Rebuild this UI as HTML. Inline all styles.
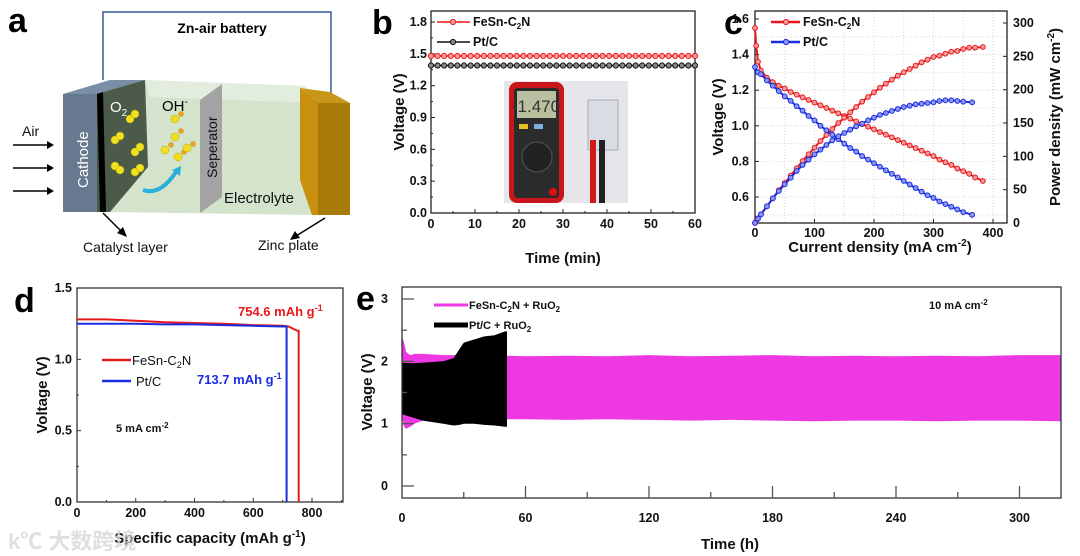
<!DOCTYPE html>
<html><head><meta charset="utf-8">
<style>
html,body{margin:0;padding:0;background:#fff;}
svg{display:block;font-family:"Liberation Sans","Noto Sans CJK SC",sans-serif;}
.t{font-weight:bold;font-size:12.5px;fill:#111;}
.ax{font-weight:bold;font-size:15px;fill:#111;}
.pl{font-weight:bold;font-size:34px;fill:#000;}
</style></head>
<body>
<svg id="fig" width="1080" height="556" viewBox="0 0 1080 556" xmlns="http://www.w3.org/2000/svg">
<!-- Panel a -->
<g>
<text class="pl" x="8" y="32">a</text>
<polyline points="103,80 103,12 331,12 331,97" fill="none" stroke="#3a5a9a" stroke-width="1.5"/>
<text x="222" y="33" text-anchor="middle" style="font-weight:bold;font-size:14px">Zn-air battery</text>
<polygon points="145,80 305,86 315,103 315,215 110,212" fill="#d3e3cc"/>
<polygon points="145,80 305,86 315,103 150,97" fill="#e2eddd"/>
<polygon points="63,94 100,94 145,80 110,80" fill="#7a8ea5"/>
<rect x="63" y="94" width="37" height="118" fill="#66798f"/>
<polygon points="97,94 145,80 148,167 110,212 97,212" fill="#4c5a4a"/>
<polygon points="97,94 103,92 106,212 100,212" fill="#000"/>
<polygon points="200,100 222,84 222,197 200,213" fill="#a3a3a3"/>
<polygon points="300,88 330,92 350,103 320,103" fill="#c9961c"/>
<polygon points="300,88 320,103 318,215 312,215 300,180" fill="#c8900e"/>
<rect x="318" y="103" width="32" height="112" fill="#a87a08"/>
<text x="110" y="112" fill="#fff" style="font-size:15px">O<tspan dy="4" font-size="10">2</tspan></text>
<text x="162" y="111" fill="#000" style="font-size:15px">OH<tspan dy="-6" font-size="10">-</tspan></text>
<g fill="#f0e020" stroke="#b8a800" stroke-width="0.5">
<circle cx="130" cy="119" r="4"/><circle cx="135" cy="114" r="4"/>
<circle cx="115" cy="140" r="4"/><circle cx="120" cy="136" r="4"/>
<circle cx="135" cy="152" r="4"/><circle cx="140" cy="147" r="4"/>
<circle cx="115" cy="166" r="4"/><circle cx="120" cy="170" r="4"/>
<circle cx="135" cy="172" r="4"/><circle cx="140" cy="168" r="4"/>
<circle cx="175" cy="119" r="4"/><circle cx="181" cy="114" r="2.5" fill="#f0a020"/>
<circle cx="175" cy="137" r="4"/><circle cx="181" cy="131" r="2.5" fill="#f0a020"/>
<circle cx="165" cy="150" r="4"/><circle cx="171" cy="145" r="2.5" fill="#f0a020"/>
<circle cx="178" cy="157" r="4"/><circle cx="184" cy="152" r="2.5" fill="#f0a020"/>
<circle cx="187" cy="148" r="4"/><circle cx="193" cy="144" r="2.5" fill="#f0a020"/>
</g>
<path d="M143,190 Q160,196 176,172" fill="none" stroke="#2ab0d8" stroke-width="4"/>
<polygon points="172,170 181,166 180,176" fill="#2ab0d8"/>
<text transform="translate(88,188) rotate(-90)" fill="#fff" style="font-size:15px">Cathode</text>
<text transform="translate(217,178) rotate(-90)" fill="#111" style="font-size:14px">Seperator</text>
<text x="224" y="203" fill="#111" style="font-size:15px">Electrolyte</text>
<text x="22" y="136" fill="#111" style="font-size:14px">Air</text>
<g stroke="#000" stroke-width="1.5">
<line x1="13" y1="145" x2="50" y2="145"/><line x1="13" y1="168" x2="50" y2="168"/><line x1="13" y1="191" x2="50" y2="191"/>
</g>
<g fill="#000"><polygon points="54,145 47,141 47,149"/><polygon points="54,168 47,164 47,172"/><polygon points="54,191 47,187 47,195"/></g>
<line x1="103" y1="213" x2="123" y2="233" stroke="#000" stroke-width="1.5"/><polygon points="127,237 117,233 123,227"/>
<line x1="325" y1="218" x2="296" y2="236" stroke="#000" stroke-width="1.5"/><polygon points="290,240 295,231 300,238"/>
<text x="83" y="252" style="font-size:14px" fill="#111">Catalyst layer</text>
<text x="258" y="250" style="font-size:14px" fill="#111">Zinc plate</text>
</g>
<g id="pb"></g>
<g id="pc"></g>
<g id="pd"></g>
<g id="pe"></g>
<text x="8" y="549" style="font-size:22px;font-weight:bold" fill="#d8d8d8" opacity="0.8">k℃ 大数跨境</text>
</svg>
<script>
// ---- Panel b data ----
const bTimes=[0,1.5,3,4.5,6,7.5,9,10.5,12,13.5,15,16.5,18,19.5,21,22.5,24,25.5,27,28.5,30,31.5,33,34.5,36,37.5,39,40.5,42,43.5,45,46.5,48,49.5,51,52.5,54,55.5,57,58.5,60];
const bFeSn=[1.48,1.48,1.48,1.48,1.48,1.48,1.48,1.48,1.48,1.48,1.48,1.48,1.48,1.48,1.48,1.48,1.48,1.48,1.48,1.48,1.48,1.48,1.48,1.48,1.48,1.48,1.48,1.48,1.48,1.48,1.48,1.48,1.48,1.48,1.48,1.48,1.48,1.48,1.48,1.48,1.48];
const bPtC=[1.39,1.39,1.39,1.39,1.39,1.39,1.39,1.39,1.39,1.39,1.39,1.39,1.39,1.39,1.39,1.39,1.39,1.39,1.39,1.39,1.39,1.39,1.39,1.39,1.39,1.39,1.39,1.39,1.39,1.39,1.39,1.39,1.39,1.39,1.39,1.39,1.39,1.39,1.39,1.39,1.39];
const bXTicks=[0,10,20,30,40,50,60];
const bYTicks=[0.0,0.3,0.6,0.9,1.2,1.5,1.8];
// ---- Panel c data ----
const cJFeSn=[0,2,5,10,20,30,40,50,60,70,80,90,100,110,120,130,140,150,160,170,180,190,200,210,220,230,240,250,260,270,280,290,300,310,320,330,340,350,360,370,383];
const cVFeSn=[1.55,1.45,1.36,1.31,1.27,1.245,1.225,1.21,1.19,1.175,1.16,1.145,1.13,1.115,1.10,1.085,1.07,1.055,1.04,1.025,1.01,0.995,0.98,0.965,0.95,0.935,0.92,0.905,0.89,0.875,0.86,0.845,0.83,0.81,0.795,0.78,0.76,0.745,0.73,0.71,0.69];
const cPFeSn=[0,3,7,13,25,37,49,60,71,82,93,103,113,123,132,141,150,158,166,174,182,189,196,203,209,215,221,226,231,236,241,245,249,251,254,257,258,261,263,263,264];
const cJPt=[0,5,10,20,30,40,50,60,70,80,90,100,110,120,130,140,150,160,170,180,190,200,210,220,230,240,250,260,270,280,290,300,310,320,330,340,350,365];
const cVPt=[1.33,1.30,1.29,1.255,1.225,1.195,1.165,1.14,1.11,1.085,1.055,1.03,1.0,0.975,0.95,0.925,0.90,0.875,0.855,0.83,0.81,0.79,0.77,0.75,0.73,0.71,0.69,0.67,0.65,0.63,0.61,0.595,0.575,0.56,0.545,0.53,0.515,0.50];
const cPPt=[0,6.5,13,25,37,48,58,68,78,87,95,103,110,117,124,130,135,140,145,149,154,158,162,165,168,171,174,176,178,179,180,181,183,184,184,183,182,181];
const cXTicks=[0,100,200,300,400];
const cYTicks=[0.6,0.8,1.0,1.2,1.4,1.6];
const cY2Ticks=[0,50,100,150,200,250,300];
// ---- Panel d data ----
const dCapFeSn=[0,100,200,300,400,500,600,700,720,740,750,754.6,754.6];
const dVFeSn=[1.28,1.28,1.27,1.26,1.255,1.25,1.24,1.235,1.23,1.21,1.20,1.20,0];
const dCapPt=[0,100,200,300,400,500,600,700,713.7,713.7];
const dVPt=[1.25,1.25,1.25,1.245,1.245,1.24,1.235,1.23,1.23,0];
const dXTicks=[0,200,400,600,800];
const dYTicks=[0.0,0.5,1.0,1.5];
// ---- Panel e data ----
const eTFeSn=[0,1,2,4,6,10,20,30,40,60,80,100,120,140,160,180,200,220,240,260,280,300,320];
const eUpFeSn=[2.4,2.3,2.15,2.1,2.12,2.12,2.1,2.1,2.1,2.08,2.09,2.08,2.1,2.08,2.09,2.1,2.08,2.09,2.08,2.09,2.08,2.1,2.1];
const eLoFeSn=[1.1,0.95,0.92,0.95,1.0,1.05,1.08,1.08,1.07,1.07,1.06,1.07,1.06,1.05,1.06,1.05,1.04,1.05,1.05,1.04,1.05,1.05,1.04];
const eTPt=[0,5,10,20,25,28,30,35,40,45,50,51];
const eUpPt=[1.98,1.97,1.98,2.0,2.05,2.2,2.3,2.35,2.4,2.42,2.48,2.48];
const eLoPt=[1.15,1.1,1.05,1.0,0.97,0.98,1.0,1.0,0.98,0.97,0.95,0.95];
const eXTicks=[0,60,120,180,240,300];
const eYTicks=[0,1,2,3];

const NS="http://www.w3.org/2000/svg";
function mk(parent,tag,attrs,txt){const e=document.createElementNS(NS,tag);for(const k in attrs)e.setAttribute(k,attrs[k]);if(txt!==undefined)e.textContent=txt;parent.appendChild(e);return e;}
function lin(d0,d1,r0,r1){return v=>r0+(v-d0)/(d1-d0)*(r1-r0);}
function pts(xs,ys,fx,fy){return xs.map((x,i)=>fx(x).toFixed(1)+","+fy(ys[i]).toFixed(1)).join(" ");}

// ===== Panel b =====
(function(){
const g=document.getElementById('pb');
const L=431,R=695,T=11,B=213;
const fx=lin(0,60,L,R), fy=lin(0,1.8,B,22);
let t=mk(g,'text',{class:'pl',x:372,y:34});


t.textContent='b';
const ph=mk(g,'g',{});


mk(ph,'rect',{x:504,y:81,width:124,height:122,fill:'#e6e6ea'});
mk(ph,'rect',{x:509,y:82,width:55,height:121,rx:8,fill:'#c8161c'});
mk(ph,'rect',{x:514,y:88,width:45,height:110,rx:4,fill:'#2b2b2b'});
mk(ph,'rect',{x:517,y:91,width:39,height:27,fill:'#b8c0a0'});
mk(ph,'text',{x:536,y:112,'text-anchor':'middle','font-size':'17','fill':'#333'},'-1.470');
mk(ph,'rect',{x:519,y:124,width:9,height:5,fill:'#e8c020'});
mk(ph,'rect',{x:534,y:124,width:9,height:5,fill:'#7ab0e0'});
mk(ph,'circle',{cx:537,cy:157,r:15,fill:'#222',stroke:'#555'});
mk(ph,'circle',{cx:553,cy:192,r:4,fill:'#e01010'});
mk(ph,'rect',{x:588,y:100,width:30,height:50,fill:'#d8dde4',stroke:'#aab'});
mk(ph,'rect',{x:590,y:140,width:6,height:63,fill:'#d01818'});
mk(ph,'rect',{x:599,y:140,width:6,height:63,fill:'#222'});
const ax=mk(g,'g',{});


mk(ax,'rect',{x:L,y:T,width:R-L,height:B-T,fill:'none',stroke:'#222','stroke-width':1.3});
bXTicks.forEach((v,i)=>{const x=fx(v);mk(ax,'line',{x1:x,y1:B,x2:x,y2:B-4,stroke:'#222'});
 if(i<bXTicks.length-1){const xm=fx(v+5);mk(ax,'line',{x1:xm,y1:B,x2:xm,y2:B-2,stroke:'#222'});}
 const lb=mk(ax,'text',{class:'t',x:x,y:B+15,'text-anchor':'middle'},String(v));
 });
bYTicks.forEach((v,i)=>{const y=fy(v);mk(ax,'line',{x1:L,y1:y,x2:L+4,y2:y,stroke:'#222'});
 if(i<bYTicks.length-1){const ym=fy(v+0.15);mk(ax,'line',{x1:L,y1:ym,x2:L+2,y2:ym,stroke:'#222'});}
 const lb=mk(ax,'text',{class:'t',x:L-4,y:y+4,'text-anchor':'end'},v.toFixed(1));
 });
let xt=mk(g,'text',{class:'ax',x:(L+R)/2,y:263,'text-anchor':'middle'},'Time (min)');

let yt=mk(g,'text',{class:'ax',transform:'translate(404,112) rotate(-90)','text-anchor':'middle'},'Voltage (V)');

[[bFeSn,'#e8191c','#f39a9a','FeSn'],[bPtC,'#111','#888','PtC']].forEach(([ys,c,f,n])=>{
 const s=mk(g,'g',{});
 
 mk(s,'polyline',{points:pts(bTimes,ys,fx,fy),fill:'none',stroke:c,'stroke-width':1.5});
 bTimes.forEach((x,i)=>{const m=mk(s,'circle',{cx:fx(x),cy:fy(ys[i]),r:2.6,fill:f,stroke:c,'stroke-width':1});
 });
});
[['#e8191c','#f39a9a',22,'FeSn-C','2','N'],['#111','#888',42,'Pt/C','','']].forEach(([c,f,y,a,sub,b2])=>{
 const lg=mk(g,'g',{});
 mk(lg,'line',{x1:437,y1:y,x2:470,y2:y,stroke:c,'stroke-width':1.5});
 mk(lg,'circle',{cx:453,cy:y,r:2.6,fill:f,stroke:c});
 const tx=mk(lg,'text',{class:'t',x:473,y:y+4});tx.textContent=a;
 if(sub){mk(tx,'tspan',{dy:3,'font-size':8},sub);mk(tx,'tspan',{dy:-3},b2);}
});
})();

// ===== Panel c =====
(function(){
const g=document.getElementById('pc');
const L=755,R=1007,T=11,B=223;
const fx=lin(0,400,L,993), fy=lin(0.6,1.6,197,19), fy2=lin(0,300,B,23);
let t=mk(g,'text',{class:'pl',x:724,y:34});
t.textContent='c';
const ax=mk(g,'g',{});

for(let v=0;v<=400;v+=50){const x=fx(v);mk(ax,'line',{x1:x,y1:T,x2:x,y2:B,stroke:'#ccc','stroke-dasharray':'1,2','stroke-width':0.8});}
for(let v=0.5;v<=1.6;v+=0.1){const y=fy(v);if(y>T&&y<B)mk(ax,'line',{x1:L,y1:y,x2:R,y2:y,stroke:'#ccc','stroke-dasharray':'1,2','stroke-width':0.8});}
mk(ax,'rect',{x:L,y:T,width:R-L,height:B-T,fill:'none',stroke:'#222','stroke-width':1.3});
cXTicks.forEach(v=>{const x=fx(v);mk(ax,'line',{x1:x,y1:B,x2:x,y2:B-4,stroke:'#222'});
 const lb=mk(ax,'text',{class:'t',x:x,y:B+14,'text-anchor':'middle'},String(v));
 });
cYTicks.forEach(v=>{const y=fy(v);mk(ax,'line',{x1:L,y1:y,x2:L+4,y2:y,stroke:'#222'});
 const lb=mk(ax,'text',{class:'t',x:L-6,y:y+4,'text-anchor':'end'},v.toFixed(1));
 });
cY2Ticks.forEach(v=>{const y=fy2(v);mk(ax,'line',{x1:R,y1:y,x2:R-4,y2:y,stroke:'#222'});
 const lb=mk(ax,'text',{class:'t',x:R+6,y:y+4},String(v));
 });
let xt=mk(g,'text',{class:'ax',x:880,y:252,'text-anchor':'middle'});

xt.textContent='Current density (mA cm';mk(xt,'tspan',{dy:-6,'font-size':10},'-2');mk(xt,'tspan',{dy:6},')');
let yt=mk(g,'text',{class:'ax',transform:'translate(723,117) rotate(-90)','text-anchor':'middle'},'Voltage (V)');

let yt2=mk(g,'text',{class:'ax',transform:'translate(1060,117) rotate(-90)','text-anchor':'middle'});

yt2.textContent='Power density (mW cm';mk(yt2,'tspan',{dy:-6,'font-size':10},'-2');mk(yt2,'tspan',{dy:6},')');
[[cJFeSn,cVFeSn,fy,'#e8191c','#f39a9a','FeSn-V'],[cJFeSn,cPFeSn,fy2,'#e8191c','#f39a9a','FeSn-P'],[cJPt,cVPt,fy,'#1a2ee0','#8c96f0','PtC-V'],[cJPt,cPPt,fy2,'#1a2ee0','#8c96f0','PtC-P']].forEach(([xs,ys,yf,c,f,n])=>{
 const s=mk(g,'g',{});
 mk(s,'polyline',{points:pts(xs,ys,fx,yf),fill:'none',stroke:c,'stroke-width':2});
 xs.forEach((x,i)=>{const m=mk(s,'circle',{cx:fx(x),cy:yf(ys[i]),r:2.4,fill:f,stroke:c,'stroke-width':1});
 });
});
[['#e8191c','#f39a9a',22,'FeSn-C','2','N'],['#1a2ee0','#8c96f0',42,'Pt/C','','']].forEach(([c,f,y,a,sub,b2])=>{
 const lg=mk(g,'g',{});
 mk(lg,'line',{x1:771,y1:y,x2:800,y2:y,stroke:c,'stroke-width':2.5});
 mk(lg,'circle',{cx:786,cy:y,r:2.6,fill:f,stroke:c});
 const tx=mk(lg,'text',{class:'t',x:803,y:y+4});tx.textContent=a;
 if(sub){mk(tx,'tspan',{dy:3,'font-size':8},sub);mk(tx,'tspan',{dy:-3},b2);}
});
})();

// ===== Panel d =====
(function(){
const g=document.getElementById('pd');
const L=77,R=343,T=288,B=502;
const fx=lin(0,800,L,312), fy=lin(0,1.5,B,T);
let t=mk(g,'text',{class:'pl',x:14,y:312});
t.textContent='d';
const ax=mk(g,'g',{});
mk(ax,'rect',{x:L,y:T,width:R-L,height:B-T,fill:'none',stroke:'#333','stroke-width':1.3});
dXTicks.forEach(v=>{const x=fx(v);mk(ax,'line',{x1:x,y1:B,x2:x,y2:B-4,stroke:'#333'});
 const xm=fx(v+100);if(xm<R)mk(ax,'line',{x1:xm,y1:B,x2:xm,y2:B-2,stroke:'#333'});
 const lb=mk(ax,'text',{class:'t',x:x,y:B+15,'text-anchor':'middle'},String(v));
 });
dYTicks.forEach((v,i)=>{const y=fy(v);mk(ax,'line',{x1:L,y1:y,x2:L+4,y2:y,stroke:'#333'});
 if(i<dYTicks.length-1){const ym=fy(v+0.25);mk(ax,'line',{x1:L,y1:ym,x2:L+2,y2:ym,stroke:'#333'});}
 const lb=mk(ax,'text',{class:'t',x:L-5,y:y+4,'text-anchor':'end'},v.toFixed(1));
 });
let xt=mk(g,'text',{class:'ax',x:210,y:543,'text-anchor':'middle'});

xt.textContent='Specific capacity (mAh g';mk(xt,'tspan',{dy:-6,'font-size':10},'-1');mk(xt,'tspan',{dy:6},')');
let yt=mk(g,'text',{class:'ax',transform:'translate(47,395) rotate(-90)','text-anchor':'middle'},'Voltage (V)');

[[dCapFeSn,dVFeSn,'#e8191c','FeSn'],[dCapPt,dVPt,'#1a2ee0','PtC']].forEach(([xs,ys,c,n])=>{
 const s=mk(g,'polyline',{points:pts(xs,ys,fx,fy),fill:'none',stroke:c,'stroke-width':2});
 });
[['#e8191c',360,'FeSn-C','2','N',132],['#1a2ee0',381,'Pt/C','','',136]].forEach(([c,y,a,sub,b2,tx0])=>{
 const lg=mk(g,'g',{});
 mk(lg,'line',{x1:102,y1:y,x2:131,y2:y,stroke:c,'stroke-width':2.5});
 const tx=mk(lg,'text',{x:tx0,y:y+5,'font-size':13,fill:'#111'});tx.textContent=a;
 if(sub){mk(tx,'tspan',{dy:3,'font-size':9},sub);mk(tx,'tspan',{dy:-3},b2);}
});
let a1=mk(g,'text',{class:'t',x:238,y:316,style:'fill:#e8191c;font-size:13px'});

a1.textContent='754.6 mAh g';mk(a1,'tspan',{dy:-5,'font-size':9},'-1');
let a2=mk(g,'text',{class:'t',x:197,y:384,style:'fill:#1a2ee0;font-size:13px'});

a2.textContent='713.7 mAh g';mk(a2,'tspan',{dy:-5,'font-size':9},'-1');
let a3=mk(g,'text',{class:'t',x:116,y:432,style:'font-size:11px'});

a3.textContent='5 mA cm';mk(a3,'tspan',{dy:-4,'font-size':8},'-2');
})();

// ===== Panel e =====
(function(){
const g=document.getElementById('pe');
const L=402,R=1061,T=287,B=498;
const fx=lin(0,60,L,525.5), fy=lin(0,3,486,299);
let t=mk(g,'text',{class:'pl',x:356,y:310});
t.textContent='e';
const bandF=mk(g,'polygon',{points:pts(eTFeSn,eUpFeSn,fx,fy)+" "+pts(eTFeSn.slice().reverse(),eLoFeSn.slice().reverse(),fx,fy),fill:'#ee38e4'});

const bandP=mk(g,'polygon',{points:pts(eTPt,eUpPt,fx,fy)+" "+pts(eTPt.slice().reverse(),eLoPt.slice().reverse(),fx,fy),fill:'#000'});

const ax=mk(g,'g',{});
mk(ax,'rect',{x:L,y:T,width:R-L,height:B-T,fill:'none',stroke:'#333','stroke-width':1.3});
eXTicks.forEach(v=>{const x=fx(v);mk(ax,'line',{x1:x,y1:B,x2:x,y2:B-12,stroke:'#555','stroke-width':1.3});
 const xm=fx(v+30);if(xm<R)mk(ax,'line',{x1:xm,y1:B,x2:xm,y2:B-6,stroke:'#555','stroke-width':1.3});
 const lb=mk(ax,'text',{class:'t',x:x,y:B+24,'text-anchor':'middle'},String(v));
 });
eYTicks.forEach((v,i)=>{const y=fy(v);mk(ax,'line',{x1:L,y1:y,x2:L+12,y2:y,stroke:'#555','stroke-width':1.3});
 if(i<eYTicks.length-1){const ym=fy(v+0.5);mk(ax,'line',{x1:L,y1:ym,x2:L+5,y2:ym,stroke:'#555','stroke-width':1.3});}
 const lb=mk(ax,'text',{class:'t',x:L-14,y:y+4,'text-anchor':'end'},String(v));
 });
let xt=mk(g,'text',{class:'ax',x:730,y:549,'text-anchor':'middle'},'Time (h)');

let yt=mk(g,'text',{class:'ax',transform:'translate(372,392) rotate(-90)','text-anchor':'middle'},'Voltage (V)');

[['#ee38e4',305,'FeSn-C','2','N + RuO','2',3],['#000',325,'Pt/C + RuO','2','','',5]].forEach(([c,y,a,sub,b2,sub2,w])=>{
 const lg=mk(g,'g',{});
 mk(lg,'line',{x1:434,y1:y,x2:468,y2:y,stroke:c,'stroke-width':w});
 const tx=mk(lg,'text',{class:'t',x:469,y:y+4,style:'font-size:11px'});tx.textContent=a;
 mk(tx,'tspan',{dy:3,'font-size':8},sub);
 if(b2){mk(tx,'tspan',{dy:-3},b2);mk(tx,'tspan',{dy:3,'font-size':8},sub2);}
});
let a3=mk(g,'text',{class:'t',x:929,y:309,style:'font-size:11px'});

a3.textContent='10 mA cm';mk(a3,'tspan',{dy:-4,'font-size':8},'-2');
})();
</script>
</body></html>
